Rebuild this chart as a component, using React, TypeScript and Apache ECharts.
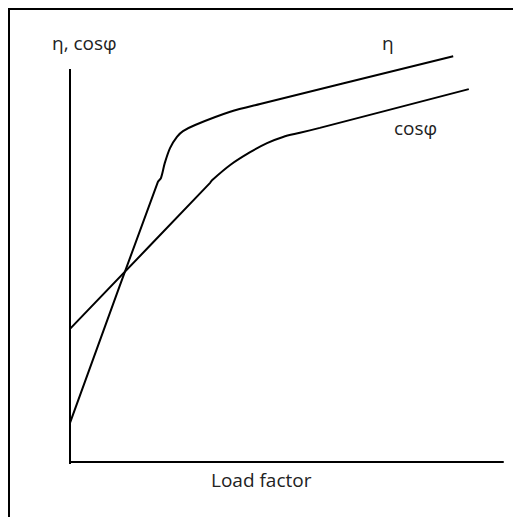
import React, { useEffect, useRef } from "react";
import * as echarts from "echarts";

// Load factor (x, % of axis) and value (y, % of axis)
const etaX = [0, 20.3, 21.0, 21.9, 23.1, 24.7, 26.1, 28.9, 37.0, 43.9, 88.5];
const etaY = [9.5, 68.0, 68.9, 72.6, 76.2, 78.9, 80.3, 81.8, 85.0, 86.9, 98.5];
const cosX = [0, 32.3, 32.8, 37.0, 41.6, 45.5, 49.2, 53.1, 57.7, 92.1];
const cosY = [32.3, 67.7, 68.4, 72.1, 75.2, 77.4, 78.9, 79.9, 81.1, 90.5];
const yAxisLineX = [0, 0];
const yAxisLineY = [-0.5, 95.4];

const labels = {
  yTitle: "η, cosφ",
  eta: "η",
  cos: "cosφ",
  xTitle: "Load factor",
};

const zip = (xs: number[], ys: number[]) => xs.map((x, i) => [x, ys[i]]);

export default function App() {
  const ref = useRef<HTMLDivElement>(null);
  useEffect(() => {
    if (!ref.current) return;
    const chart = echarts.init(ref.current, undefined, { renderer: "svg" });
    const font = "'Open Sans', 'Noto Sans', sans-serif";
    const textStyle = { fontFamily: font, fontSize: 19, fill: "#222" };
    chart.setOption({
      animation: false,
      grid: { left: 60, right: 18, top: 40, bottom: 55 },
      xAxis: {
        type: "value",
        min: 0,
        max: 100,
        axisLine: { show: true, onZero: false, lineStyle: { color: "#000", width: 2 } },
        axisTick: { show: false },
        axisLabel: { show: false },
        splitLine: { show: false },
      },
      yAxis: {
        type: "value",
        min: 0,
        max: 100,
        axisLine: { show: false },
        axisTick: { show: false },
        axisLabel: { show: false },
        splitLine: { show: false },
      },
      series: [
        {
          type: "line",
          name: "yaxis",
          data: zip(yAxisLineX, yAxisLineY),
          symbol: "none",
          clip: false,
          lineStyle: { color: "#000", width: 2 },
        },
        {
          type: "line",
          name: labels.eta,
          data: zip(etaX, etaY),
          symbol: "none",
          smooth: 0.3,
          clip: false,
          lineStyle: { color: "#000", width: 2 },
        },
        {
          type: "line",
          name: labels.cos,
          data: zip(cosX, cosY),
          symbol: "none",
          smooth: 0.3,
          clip: false,
          lineStyle: { color: "#000", width: 2 },
        },
      ],
      graphic: [
        { type: "text", left: 42, top: 23, style: { ...textStyle, text: labels.yTitle } },
        { type: "text", left: 372, top: 23, style: { ...textStyle, text: labels.eta } },
        { type: "text", left: 384, top: 108, style: { ...textStyle, text: labels.cos } },
        { type: "text", left: 201, top: 460, style: { ...textStyle, text: labels.xTitle } },
      ],
    });
    return () => chart.dispose();
  }, []);
  return (
    <div
      style={{
        width: 511,
        height: 507,
        borderTop: "2px solid #000",
        borderLeft: "2px solid #000",
      }}
    >
      <div ref={ref} style={{ width: 511, height: 507 }} />
    </div>
  );
}
